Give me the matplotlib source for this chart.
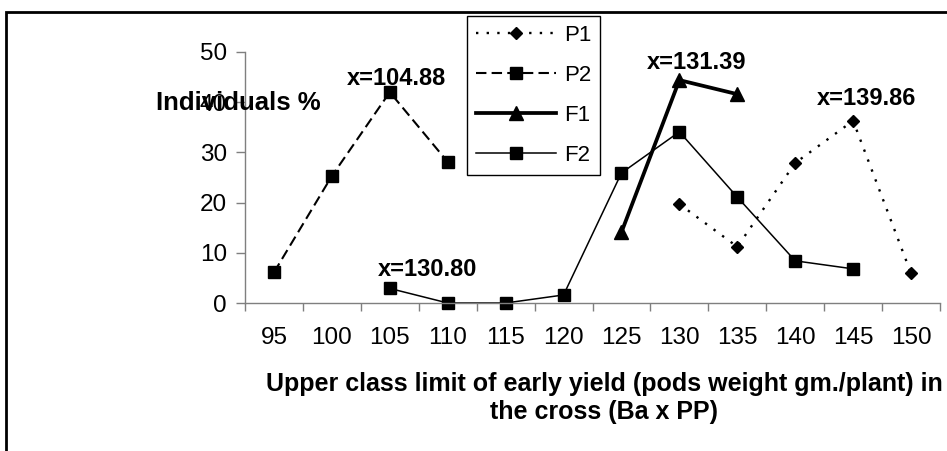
import matplotlib
matplotlib.use("Agg")
import matplotlib.pyplot as plt
import numpy as np

plt.rcParams['font.family'] = ['Liberation Sans', 'DejaVu Sans']

nan = np.nan
cats = [95, 100, 105, 110, 115, 120, 125, 130, 135, 140, 145, 150]
p1 = [nan, nan, nan, nan, nan, nan, nan, 19.7, 11.2, 27.9, 36.3, 5.9]
p2 = [6.1, 25.3, 42.0, 28.1, nan, nan, nan, nan, nan, nan, nan, nan]
f1 = [nan, nan, nan, nan, nan, nan, 14.1, 44.4, 41.6, nan, nan, nan]
f2 = [nan, nan, 2.9, 0, 0, 1.6, 25.9, 34.1, 21.1, 8.4, 6.8, nan]

# mean labels (category index, y)
notes = [("x=104.88", 2.12, 44.8), ("x=131.39", 7.29, 48.0),
         ("x=139.86", 10.24, 40.8), ("x=130.80", 2.66, 6.7)]

W, H = 947, 451
fig = plt.figure(figsize=(W / 100, H / 100), dpi=100)
ax = fig.add_axes([245 / W, 1 - 303 / H, (940 - 245) / W, (303 - 52) / H])

x = np.arange(len(cats))
l1, = ax.plot(x, p1, color='black', linestyle=(0, (1, 3.5)), linewidth=1.7,
              marker='D', markersize=6.3, clip_on=False, label='P1')
l2, = ax.plot(x, p2, color='black', linestyle=(0, (5, 2.5)), linewidth=1.5,
              marker='s', markersize=9, clip_on=False, label='P2')
l3, = ax.plot(x, f1, color='black', linestyle='-', linewidth=2.7,
              marker='^', markersize=9.5, clip_on=False, label='F1')
l4, = ax.plot(x, f2, color='black', linestyle='-', linewidth=1.1,
              marker='s', markersize=9, clip_on=False, label='F2')

for txt, xi, yi in notes:
    ax.text(xi, yi, txt, ha='center', va='center', fontsize=17, fontweight='bold')

ax.set_xlim(-0.5, len(cats) - 0.5)
ax.set_ylim(0, 50)
ax.set_yticks(range(0, 51, 10))
ax.set_xticks(np.arange(-0.5, len(cats), 1))
ax.set_xticklabels([])
ax.set_xticks(x, [str(c) for c in cats], minor=True)

for s in ['top', 'right']:
    ax.spines[s].set_visible(False)
for s in ['left', 'bottom']:
    ax.spines[s].set_color('#7f7f7f')
    ax.spines[s].set_linewidth(1)

ax.tick_params(axis='y', length=6.5, width=1, color='#7f7f7f', pad=6.5, labelsize=17.5)
ax.tick_params(axis='x', which='major', length=6, width=1, color='#7f7f7f')
ax.tick_params(axis='x', which='minor', length=0, pad=17, labelsize=17.5)

ax.text(-0.01, 0.797, 'Individuals %', transform=ax.transAxes, ha='center',
        va='center', fontsize=18.5, fontweight='bold')

fig.text(604 / W, 1 - 398 / H,
         'Upper class limit of early yield (pods weight gm./plant) in\nthe cross (Ba x PP)',
         ha='center', va='center', fontsize=18, fontweight='bold', linespacing=1.2)

leg = ax.legend(handles=[l1, l2, l3, l4], loc='upper left',
                bbox_to_anchor=(467 / W, 1 - 16 / H), bbox_transform=fig.transFigure,
                borderaxespad=0, fancybox=False, framealpha=1, edgecolor='black',
                fontsize=16, handlelength=3.6, handletextpad=0.36,
                labelspacing=0.86, borderpad=0.4, numpoints=1)
leg.get_frame().set_linewidth(1)

fig.add_artist(plt.Rectangle((6 / W, -0.5), 2, 0.5 + 1 - 12 / H,
                             transform=fig.transFigure, fill=False,
                             edgecolor='black', linewidth=2))

fig.savefig('out.png', dpi=100)
